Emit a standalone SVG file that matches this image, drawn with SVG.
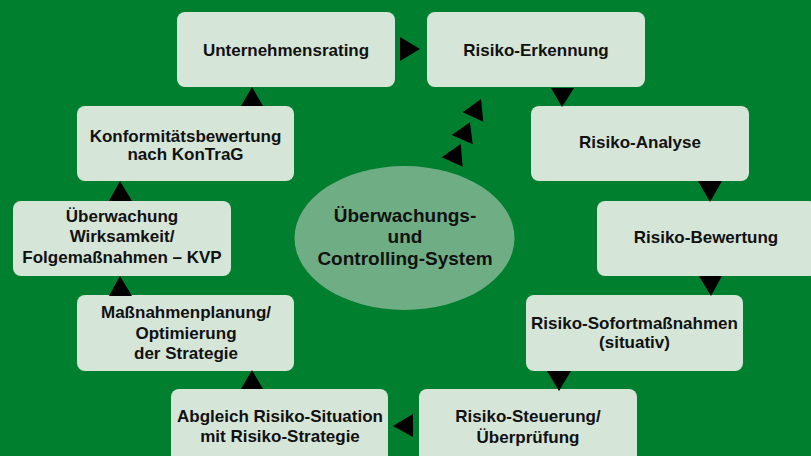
<svg xmlns="http://www.w3.org/2000/svg" width="811" height="456" viewBox="0 0 811 456">
<style>
.box{fill:#d5e6d8;}
.t{font-family:"Liberation Sans",Arial,sans-serif;font-weight:bold;font-size:17px;fill:#111;text-anchor:middle;}
.e{font-size:19px;}
.arr{fill:#000;}
</style>
<rect width="811" height="456" fill="#007f2f"/>
<g id="center">
<ellipse cx="404.5" cy="238" rx="110" ry="72" fill="#6fae84"/>
<text class="t e" x="405" y="222">Überwachungs-</text>
<text class="t e" x="405" y="243">und</text>
<text class="t e" x="405" y="265">Controlling-System</text>
</g>
<g id="n1"><rect class="box" x="177" y="12" width="218" height="75" rx="8"/><text class="t" x="286" y="56">Unternehmensrating</text></g>
<g id="n2"><rect class="box" x="427" y="12" width="218" height="75" rx="8"/><text class="t" x="536" y="56">Risiko-Erkennung</text></g>
<g id="n3"><rect class="box" x="531" y="106" width="218" height="75" rx="8"/><text class="t" x="640" y="148">Risiko-Analyse</text></g>
<g id="n4"><rect class="box" x="597" y="201" width="220" height="75" rx="8"/><text class="t" x="706" y="243">Risiko-Bewertung</text></g>
<g id="n5"><rect class="box" x="526" y="295" width="217" height="76" rx="8"/><text class="t" x="634.5" y="329">Risiko-Sofortmaßnahmen</text><text class="t" x="634.5" y="348">(situativ)</text></g>
<g id="n6"><rect class="box" x="419" y="389" width="218" height="80" rx="8"/><text class="t" x="528" y="422">Risiko-Steuerung/</text><text class="t" x="528" y="443">Überprüfung</text></g>
<g id="n7"><rect class="box" x="171" y="389" width="217" height="80" rx="8"/><text class="t" x="280" y="422">Abgleich Risiko-Situation</text><text class="t" x="280" y="442">mit Risiko-Strategie</text></g>
<g id="n8"><rect class="box" x="77" y="295" width="217" height="76" rx="8"/><text class="t" x="186" y="318">Maßnahmenplanung/</text><text class="t" x="186" y="339">Optimierung</text><text class="t" x="186" y="359">der Strategie</text></g>
<g id="n9"><rect class="box" x="13" y="201" width="218" height="75" rx="8"/><text class="t" x="122" y="222">Überwachung</text><text class="t" x="122" y="242">Wirksamkeit/</text><text class="t" x="122" y="263">Folgemaßnahmen – KVP</text></g>
<g id="n10"><rect class="box" x="77" y="106" width="217" height="75" rx="8"/><text class="t" x="185.5" y="142">Konformitätsbewertung</text><text class="t" x="185.5" y="160">nach KonTraG</text></g>
<g id="connectors" class="arr">
<polygon points="400,37 420,49 400,61"/>
<polygon points="551,88 574,88 562,107"/>
<polygon points="698,181 722,181 710,202"/>
<polygon points="699,276 722,276 711,296"/>
<polygon points="547,371 571,371 559,391"/>
<polygon points="413,414 393,426 413,437"/>
<polygon points="241,389 263,389 252,370"/>
<polygon points="109,296 132,296 120,276"/>
<polygon points="109,201 132,201 120,181"/>
<polygon points="241,106 263,106 252,87"/>
<polygon points="462.7,112.3 481,99 483.3,121.7"/>
<polygon points="451.7,135 470,122.3 472.7,144.3"/>
<polygon points="441.7,157.3 460.7,144 462.7,166.7"/>
</g>
</svg>
